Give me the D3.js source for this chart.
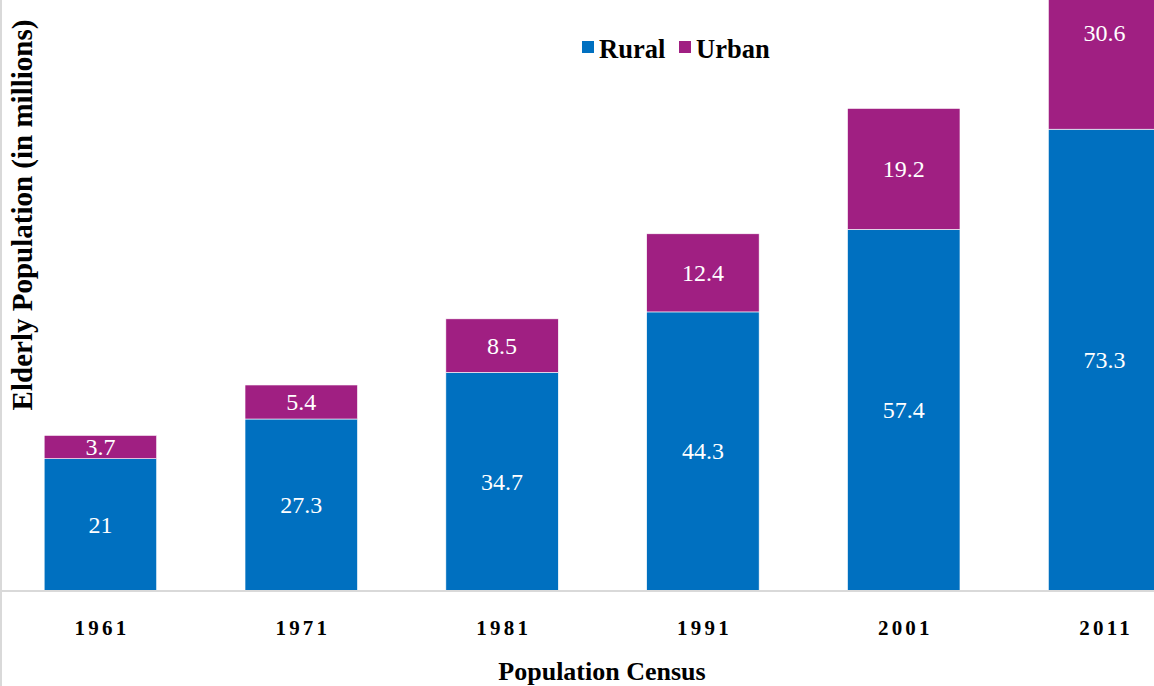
<!DOCTYPE html>
<html lang="en">
<head>
  <meta charset="UTF-8" />
  <title>Elderly Population</title>
  <script src="https://d3js.org/d3.v7.min.js"></script>
  <style>
    body { margin: 0; background: #fff; }
    svg text { font-family: 'Liberation Serif', 'DejaVu Serif', serif; }
    .tick-label { font-weight: bold; }
    .title { font-weight: bold; }
    .val { fill: #fff; font-size: 24px; }
  </style>
</head>
<body>
  <svg id="chart" width="1154" height="686"></svg>
  <script>
    const years = ['1961', '1971', '1981', '1991', '2001', '2011'];
    const rural = [21, 27.3, 34.7, 44.3, 57.4, 73.3];
    const urban = [3.7, 5.4, 8.5, 12.4, 19.2, 30.6];
    const seriesNames = ['Rural', 'Urban'];
    const colors = ['#0070C0', '#A01F82'];

    const svg = d3.select("#chart");
    const baseY = 591;

    const x = d3.scaleBand()
      .domain(years)
      .range([0, 1205])
      .paddingInner(0.44)
      .paddingOuter(0.22);

    const y = d3.scaleLinear()
      .domain([0, 100])
      .range([baseY, baseY - 630]);

    const rows = years.map((yr, i) => ({ year: yr, Rural: rural[i], Urban: urban[i] }));
    const stacked = d3.stack().keys(seriesNames)(rows);

    // bars
    const layer = svg.selectAll("g.layer")
      .data(stacked)
      .enter()
      .append("g")
      .attr("fill", (d, i) => colors[i]);

    layer.selectAll("rect")
      .data(d => d)
      .enter()
      .append("rect")
      .attr("x", d => x(d.data.year))
      .attr("y", d => y(d[1]))
      .attr("width", x.bandwidth())
      .attr("height", d => y(d[0]) - y(d[1]))
      .attr("stroke", "#fff")
      .attr("stroke-width", 0.6);

    // value labels
    layer.selectAll("text")
      .data(d => d.map(v => ({ v, key: d.key })))
      .enter()
      .append("text")
      .attr("class", "val")
      .attr("x", d => x(d.v.data.year) + x.bandwidth() / 2)
      .attr("y", d => (y(d.v[0]) + y(d.v[1])) / 2 + 8)
      .attr("text-anchor", "middle")
      .text(d => d.v.data[d.key]);

    // frame
    svg.append("line")
      .attr("x1", 1).attr("x2", 1)
      .attr("y1", 0).attr("y2", 686)
      .attr("stroke", "#d9d9d9").attr("stroke-width", 2);

    // x axis
    const xAxis = svg.append("g")
      .attr("transform", `translate(0,${baseY})`)
      .call(d3.axisBottom(x).tickSize(0));
    xAxis.attr("font-family", null).attr("font-size", null);
    xAxis.select(".domain").remove();
    xAxis.append("line")
      .attr("x1", 0).attr("x2", 1154)
      .attr("stroke", "#d9d9d9").attr("stroke-width", 2);
    xAxis.selectAll(".tick text")
      .attr("class", "tick-label")
      .attr("fill", "#000")
      .attr("y", 44)
      .attr("dy", 0)
      .attr("dx", 1.6)
      .style("font-size", "21px")
      .style("letter-spacing", "3.2px");

    // axis titles
    svg.append("text")
      .attr("class", "title")
      .attr("x", 602)
      .attr("y", 680)
      .attr("text-anchor", "middle")
      .style("font-size", "26px")
      .text("Population Census");

    svg.append("text")
      .attr("class", "title")
      .attr("transform", `translate(32,215) rotate(-90)`)
      .attr("text-anchor", "middle")
      .style("font-size", "29px")
      .text("Elderly Population (in millions)");

    // legend
    const legend = svg.append("g").attr("transform", "translate(582,41)");
    const legX = [0, 97];
    seriesNames.forEach((name, i) => {
      legend.append("rect")
        .attr("x", legX[i]).attr("y", 0)
        .attr("width", 12).attr("height", 12)
        .attr("fill", colors[i]);
      legend.append("text")
        .attr("class", "title")
        .attr("x", legX[i] + 17)
        .attr("y", 17)
        .style("font-size", "26.5px")
        .text(name);
    });
  </script>
</body>
</html>
